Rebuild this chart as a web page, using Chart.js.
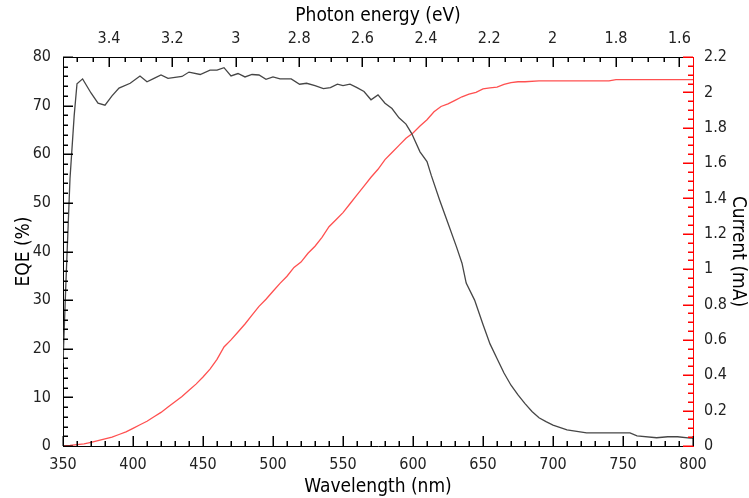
<!DOCTYPE html>
<html>
<head>
<meta charset="utf-8">
<script src="https://cdn.jsdelivr.net/npm/chart.js@4/dist/chart.umd.min.js"></script>
<style>
html,body{margin:0;padding:0;background:#fff;}
#wrap{width:749px;height:498px;}
</style>
</head>
<body>
<div id="wrap"><canvas id="c" width="749" height="498"></canvas></div>
<script>
// ---- data ----
const eqeWavelength = [350,352,355,358,360,364,370,375,380,385,390,398,405,410,415,420,425,430,435,440,448,455,460,465,470,475,480,485,490,495,500,505,513,519,524,530,536,541,546,550,555,560,565,570,575,580,585,590,595,599,605,610,613,619,625,631,635,638,644,650,655,660,665,670,675,680,685,690,695,700,710,724,740,755,760,774,782,789,798,800];
const eqeValues = [17,33,55,68,74.5,75.5,72.6,70.5,70.1,72,73.6,74.6,76.1,74.9,75.6,76.3,75.6,75.8,76.0,76.9,76.4,77.3,77.3,77.8,76.1,76.6,75.9,76.4,76.3,75.4,75.9,75.5,75.5,74.4,74.6,74.1,73.5,73.7,74.4,74.1,74.4,73.7,72.9,71.2,72.2,70.5,69.4,67.5,66.2,64.3,60.5,58.5,55.7,50.6,45.8,41.0,37.6,33.5,30.0,25,21,18,15,12.5,10.5,8.7,7.1,5.8,5,4.3,3.3,2.7,2.7,2.7,2.1,1.7,1.9,1.9,1.6,1.6];

const currentWavelength = [350,355,360,365,370,375,380,385,390,395,400,405,410,415,420,425,430,435,440,445,450,455,460,465,470,475,480,485,490,495,500,505,510,515,520,525,530,535,540,545,550,555,560,565,570,575,580,585,590,595,600,605,610,615,620,625,630,635,640,645,650,655,660,665,670,675,680,690,700,720,740,745,760,780,800];
const currentValues = [0,0.003,0.008,0.012,0.02,0.03,0.04,0.05,0.065,0.08,0.1,0.12,0.14,0.165,0.19,0.22,0.25,0.28,0.315,0.35,0.39,0.435,0.49,0.56,0.6,0.645,0.69,0.74,0.79,0.83,0.875,0.92,0.96,1.01,1.04,1.09,1.13,1.18,1.24,1.28,1.32,1.37,1.42,1.47,1.52,1.565,1.62,1.66,1.7,1.74,1.77,1.81,1.845,1.89,1.92,1.935,1.955,1.975,1.99,2.0,2.02,2.025,2.03,2.045,2.055,2.06,2.06,2.065,2.065,2.065,2.065,2.072,2.072,2.072,2.072];

const wavelengthTicks = [350,400,450,500,550,600,650,700,750,800];
const eqeTicks = [0,10,20,30,40,50,60,70,80];
const currentTicks = [0,0.2,0.4,0.6,0.8,1,1.2,1.4,1.6,1.8,2,2.2];
const energyTicks = [3.4,3.2,3,2.8,2.6,2.4,2.2,2,1.8,1.6];
const energyRange = [1.557, 3.545];

// ---- styling ----
const FONT = "'DejaVu Sans Condensed', 'DejaVu Sans', sans-serif";
const tickFont = {family: FONT, size: 16};
const titleFont = {family: FONT, size: 19};

const tickSpec = [
  {id: 'x', side: 'bottom', majors: wavelengthTicks, step: 10, color: '#000000'},
  {id: 'y', side: 'left', majors: eqeTicks, step: 2, color: '#000000'},
  {id: 'x2', side: 'top', majors: energyTicks, step: 0.05, color: '#000000'},
  {id: 'y2', side: 'right', majors: currentTicks, step: 0.05, color: '#ff0000'}
];

const inTicks = {
  id: 'inTicks',
  afterDraw(chart) {
    const c = chart.ctx;
    const a = chart.chartArea;
    const L = Math.round(a.left), R = Math.round(a.right), T = Math.round(a.top), B = Math.round(a.bottom);
    c.save();
    c.globalAlpha = 1;
    c.globalCompositeOperation = 'source-over';
    for (const spec of tickSpec) {
      const s = chart.scales[spec.id];
      const lo = Math.min(s.min, s.max), hi = Math.max(s.min, s.max);
      c.fillStyle = spec.color;
      const k0 = Math.ceil(lo / spec.step - 1e-6), k1 = Math.floor(hi / spec.step + 1e-6);
      for (let k = k0; k <= k1; k++) {
        const v = k * spec.step;
        const isMajor = spec.majors.some(m => Math.abs(m - v) < spec.step / 10);
        const len = isMajor ? 10 : 5;
        const p = Math.round(s.getPixelForValue(v));
        if (spec.side === 'bottom') c.fillRect(p - 0.5, B - len, 1.5, len);
        else if (spec.side === 'top') c.fillRect(p - 0.5, T, 1.5, len);
        else if (spec.side === 'left') c.fillRect(L, p - 0.5, len, 1.5);
        else c.fillRect(R - len, p - 0.5, len, 1.5);
      }
    }
    c.restore();
  }
};

const ctx = document.getElementById('c').getContext('2d');
new Chart(ctx, {
  type: 'line',
  data: {
    datasets: [
      {
        label: 'EQE',
        data: eqeWavelength.map((w, i) => ({x: w, y: eqeValues[i]})),
        xAxisID: 'x', yAxisID: 'y',
        borderColor: 'rgb(70,70,70)', borderWidth: 1.3,
        pointRadius: 0, tension: 0, fill: false
      },
      {
        label: 'Current',
        data: currentWavelength.map((w, i) => ({x: w, y: currentValues[i]})),
        xAxisID: 'x', yAxisID: 'y2',
        borderColor: 'rgb(255,80,80)', borderWidth: 1.3,
        pointRadius: 0, tension: 0, fill: false
      }
    ]
  },
  options: {
    responsive: false,
    animation: false,
    layout: {padding: 0},
    plugins: {legend: {display: false}, tooltip: {enabled: false}},
    scales: {
      x: {
        type: 'linear', position: 'bottom', min: 350, max: 800,
        afterBuildTicks: s => { s.ticks = wavelengthTicks.map(v => ({value: v})); },
        afterFit: s => { s.height = 52; },
        grid: {display: false, drawTicks: false},
        border: {display: true, color: '#000', width: 1},
        ticks: {font: tickFont, color: '#222', padding: 9, maxRotation: 0, callback: v => String(v)},
        title: {display: true, text: 'Wavelength (nm)', font: titleFont, color: '#000', padding: {top: 0, bottom: 0}}
      },
      x2: {
        type: 'linear', position: 'top', min: energyRange[0], max: energyRange[1], reverse: true,
        afterBuildTicks: s => { s.ticks = energyTicks.map(v => ({value: v})); },
        afterFit: s => { s.height = 57; },
        grid: {display: false, drawTicks: false},
        border: {display: true, color: '#000', width: 1},
        ticks: {font: tickFont, color: '#222', padding: 9, maxRotation: 0, callback: v => String(Math.round(v * 10) / 10)},
        title: {display: true, text: 'Photon energy (eV)', font: titleFont, color: '#000', padding: {top: 5, bottom: 0}}
      },
      y: {
        type: 'linear', position: 'left', min: 0, max: 80,
        afterBuildTicks: s => { s.ticks = eqeTicks.map(v => ({value: v})); },
        afterFit: s => { s.width = 63; },
        grid: {display: false, drawTicks: false},
        border: {display: true, color: '#000', width: 1},
        ticks: {font: tickFont, color: '#222', padding: 12, callback: v => String(v)},
        title: {display: true, text: 'EQE (%)', font: titleFont, color: '#000', padding: {top: 13, bottom: 0}}
      },
      y2: {
        type: 'linear', position: 'right', min: 0, max: 2.2,
        afterBuildTicks: s => { s.ticks = currentTicks.map(v => ({value: v})); },
        afterFit: s => { s.width = 56; },
        grid: {display: false, drawTicks: false},
        border: {display: true, color: '#ff0000', width: 1},
        ticks: {font: tickFont, color: '#222', padding: 11, callback: v => String(Math.round(v * 10) / 10)},
        title: {display: true, text: 'Current (mA)', font: titleFont, color: '#000', padding: {top: 0, bottom: 0}}
      }
    }
  },
  plugins: [inTicks]
});
</script>
</body>
</html>
